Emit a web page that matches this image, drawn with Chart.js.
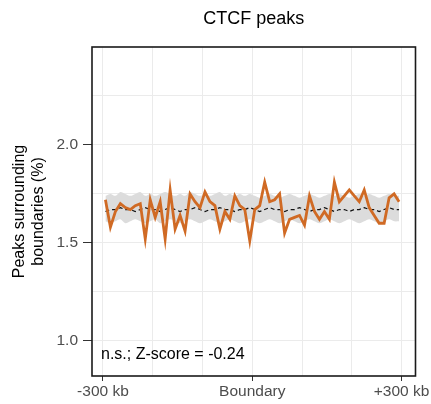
<!DOCTYPE html>
<html>
<head>
<meta charset="utf-8">
<script src="https://cdn.jsdelivr.net/npm/chart.js@4.4.1/dist/chart.umd.min.js"></script>
<style>
html,body{margin:0;padding:0;background:#fff;}
#wrap{width:431px;height:404px;position:relative;}
</style>
</head>
<body>
<div id="wrap"><canvas id="c"></canvas></div>
<script>
const chartTitle = 'CTCF peaks';
const yAxisTitle = ['Peaks surrounding', 'boundaries (%)'];
const annotationText = 'n.s.; Z-score = -0.24';

const positionsKb = [-295,-285,-275,-265,-255,-245,-235,-225,-215,-205,-195,-185,-175,-165,-155,-145,-135,-125,-115,-105,-95,-85,-75,-65,-55,-45,-35,-25,-15,-5,5,15,25,35,45,55,65,75,85,95,105,115,125,135,145,155,165,175,185,195,205,215,225,235,245,255,265,275,285,295];

const observedPct = [1.72,1.58,1.66,1.70,1.68,1.67,1.69,1.70,1.52,1.72,1.63,1.71,1.52,1.77,1.57,1.64,1.56,1.75,1.71,1.68,1.76,1.71,1.69,1.57,1.66,1.62,1.74,1.69,1.67,1.51,1.67,1.69,1.81,1.71,1.72,1.75,1.55,1.62,1.63,1.64,1.59,1.74,1.66,1.62,1.66,1.62,1.81,1.71,1.74,1.77,1.74,1.71,1.77,1.68,1.64,1.60,1.60,1.73,1.75,1.71];

const meanPct = [1.66,1.67,1.67,1.68,1.67,1.67,1.66,1.67,1.68,1.67,1.67,1.66,1.67,1.68,1.67,1.66,1.67,1.67,1.68,1.67,1.66,1.67,1.67,1.68,1.67,1.67,1.66,1.67,1.67,1.68,1.67,1.66,1.67,1.68,1.67,1.67,1.66,1.67,1.67,1.68,1.67,1.66,1.67,1.67,1.68,1.67,1.66,1.67,1.67,1.66,1.67,1.67,1.68,1.67,1.67,1.66,1.67,1.68,1.67,1.67];

const upperPct = [1.74,1.75,1.74,1.76,1.75,1.74,1.75,1.76,1.74,1.75,1.74,1.75,1.76,1.75,1.74,1.75,1.74,1.76,1.75,1.74,1.75,1.74,1.75,1.76,1.74,1.75,1.74,1.75,1.74,1.75,1.74,1.73,1.74,1.75,1.74,1.73,1.74,1.75,1.74,1.73,1.74,1.75,1.74,1.73,1.74,1.75,1.74,1.75,1.74,1.73,1.74,1.75,1.74,1.75,1.74,1.73,1.74,1.75,1.74,1.74];

const lowerPct = [1.61,1.60,1.61,1.62,1.60,1.61,1.62,1.61,1.60,1.61,1.62,1.60,1.61,1.62,1.61,1.60,1.61,1.62,1.61,1.60,1.61,1.62,1.61,1.60,1.61,1.62,1.61,1.60,1.61,1.62,1.61,1.60,1.61,1.62,1.61,1.60,1.61,1.62,1.61,1.60,1.61,1.62,1.61,1.60,1.61,1.62,1.61,1.60,1.61,1.62,1.61,1.60,1.61,1.62,1.61,1.60,1.61,1.62,1.61,1.61];

const xTickValues = [-300,-200,-100,0,100,200,300];
const xTickLabels = {'-300':'-300 kb','0':'Boundary','300':'+300 kb'};
const yTickValues = [1.0,1.25,1.5,1.75,2.0,2.25];
const yTickLabels = {'1':'1.0','1.5':'1.5','2':'2.0'};

const pts = arr => positionsKb.map((x,i)=>({x:x,y:arr[i]}));

const FONT = "'Liberation Sans', Arial, sans-serif";

const framePlugin = {
  id:'frame',
  afterDraw(chart){
    const {ctx, chartArea:a} = chart;
    ctx.save();
    ctx.strokeStyle = '#1a1a1a';
    ctx.lineWidth = 1.6;
    ctx.strokeRect(a.left, a.top, a.right-a.left, a.bottom-a.top);
    ctx.fillStyle = '#000';
    ctx.font = '16px ' + FONT;
    ctx.textAlign = 'left';
    ctx.textBaseline = 'middle';
    ctx.fillText(annotationText, a.left + 9, a.bottom - 21);
    ctx.font = '18px ' + FONT;
    ctx.textAlign = 'center';
    ctx.fillText(chartTitle, (a.left + a.right)/2, 19);
    ctx.restore();
  }
};

new Chart(document.getElementById('c'), {
  type:'line',
  data:{
    datasets:[
      {label:'observed', data:pts(observedPct), borderColor:'#D06A24', borderWidth:2.8, pointRadius:0, fill:false, tension:0, order:0},
      {label:'mean', data:pts(meanPct), borderColor:'#111', borderWidth:1.2, borderDash:[4,3], pointRadius:0, fill:false, tension:0, order:1},
      {label:'upper', data:pts(upperPct), borderColor:'rgba(0,0,0,0)', borderWidth:0, pointRadius:0, fill:'+1', backgroundColor:'#DCDCDC', tension:0.3, order:2},
      {label:'lower', data:pts(lowerPct), borderColor:'rgba(0,0,0,0)', borderWidth:0, pointRadius:0, fill:false, tension:0.3, order:3}
    ]
  },
  options:{
    responsive:true,
    maintainAspectRatio:false,
    animation:false,
    layout:{padding:{top:47,right:15,left:0,bottom:0}},
    plugins:{legend:{display:false}, tooltip:{enabled:false}, title:{display:false}},
    scales:{
      x:{
        type:'linear', min:-322, max:328,
        afterBuildTicks(s){ s.ticks = xTickValues.map(v=>({value:v})); },
        afterFit(s){ s.height = 28; },
        ticks:{
          autoSkip:false, maxRotation:0, padding:1,
          color:'#4d4d4d', font:{family:FONT, size:15.5},
          callback:(v)=> xTickLabels[String(v)] || ''
        },
        grid:{
          color:'#EBEBEB', lineWidth:1, tickLength:5,
          tickColor:(ctx)=> (ctx.tick && xTickLabels[String(ctx.tick.value)]) ? '#333' : 'rgba(0,0,0,0)'
        },
        border:{display:false}
      },
      y:{
        type:'linear', min:0.82, max:2.5,
        afterBuildTicks(s){ s.ticks = yTickValues.map(v=>({value:v})); },
        afterFit(s){ s.width = 92; },
        ticks:{
          autoSkip:false, padding:5,
          color:'#4d4d4d', font:{family:FONT, size:15.5},
          callback:(v)=> yTickLabels[String(v)] || ''
        },
        grid:{
          color:'#EBEBEB', lineWidth:1, tickLength:9,
          tickColor:(ctx)=> (ctx.tick && yTickLabels[String(ctx.tick.value)]) ? '#333' : 'rgba(0,0,0,0)'
        },
        border:{display:false},
        title:{display:true, text:yAxisTitle, color:'#000', font:{family:FONT, size:16, lineHeight:1.2}, padding:{top:10,bottom:0}}
      }
    }
  },
  plugins:[framePlugin]
});
</script>
</body>
</html>
